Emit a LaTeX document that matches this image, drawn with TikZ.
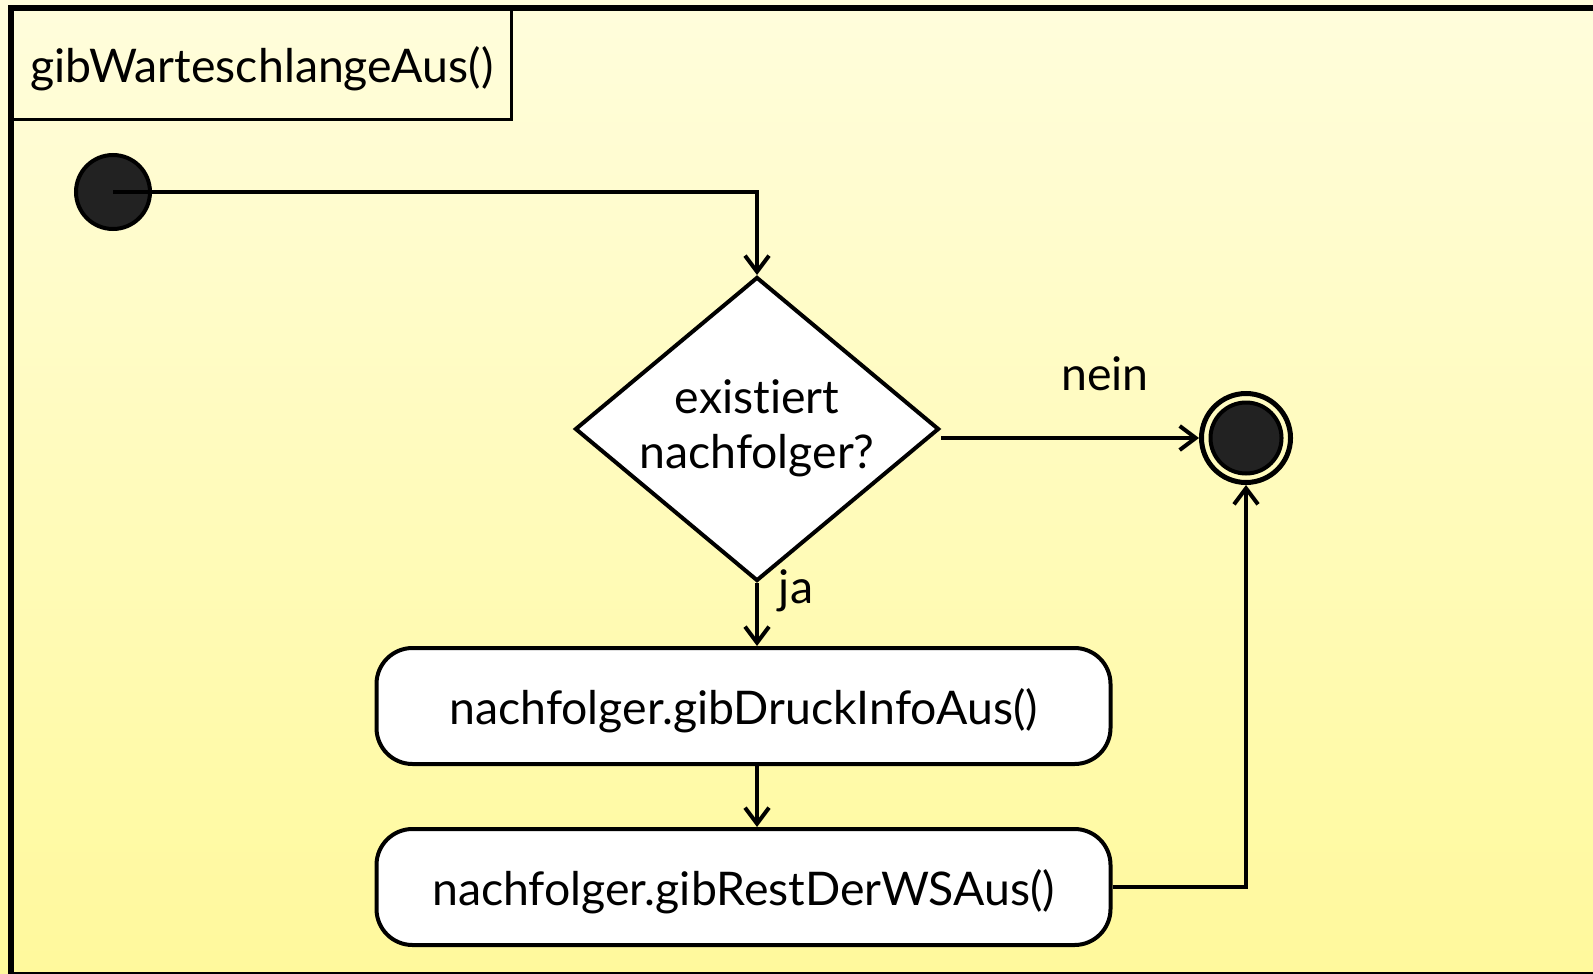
\documentclass[tikz,border=0pt]{standalone}
\usepackage{fontspec}
\setmainfont{Lato}[Ligatures=NoCommon]
\usetikzlibrary{arrows.meta,shapes.geometric}
\definecolor{bgtop}{HTML}{FFFDDC}
\definecolor{bgbot}{HTML}{FFF99C}
\definecolor{dotfill}{HTML}{222222}
\tikzset{
  flow/.style={line width=2pt, -{Straight Barb[length=8pt,width=12pt,line width=2pt]}},
  action/.style={draw, line width=2pt, fill=white, rounded corners=18pt,
    minimum width=367pt, minimum height=58pt, inner sep=0pt, text depth=0pt},
  decision/.style={diamond, draw, line width=2pt, fill=white, align=center,
    aspect=1.2, minimum width=182pt, minimum height=152pt, inner sep=0pt},
  txt/.style={font=\fontsize{23.2}{27.5}\selectfont},
}
\begin{document}
\begin{tikzpicture}[x=0.5pt,y=-0.5pt, txt]
\useasboundingbox (0,0) rectangle (1593,973);
\shade[top color=bgtop, bottom color=bgbot] (0,0) rectangle (1593,973);
% activity frame, open to the right
\draw[line width=3pt] (1700,8) -- (11,8) -- (11,975) -- (1700,975);
\node[draw, line width=1.5pt, anchor=north west, minimum width=249.5pt,
  minimum height=55pt, inner sep=0pt, text depth=0pt] (title) at (11,8) {gibWarteschlangeAus()};

% initial and final nodes
\node[circle, draw, line width=2pt, fill=dotfill, minimum size=37pt, inner sep=0pt] (start) at (113,192) {};
\node[circle, draw, line width=2.5pt, minimum size=44.5pt, inner sep=0pt] (endring) at (1246,438) {};
\node[circle, draw, line width=2pt, fill=dotfill, minimum size=35.5pt, inner sep=0pt] (enddot) at (endring) {};

% decision and actions (the strut lifts the two-line guard text a little)
\node[decision] (dec) at (757,429) {existiert\\nachfolger?\rule[-5pt]{0pt}{5pt}};
\node[action] (box1) at (743.5,706) {nachfolger.gibDruckInfoAus()};
\node[action] (box2) at (743.5,887) {nachfolger.gibRestDerWSAus()};

% control flow
\draw[flow] (start.center) -| (dec.north);
\draw[flow] (dec.east |- endring) -- (endring.west);
\draw[flow] (dec.south) -- (dec.south |- box1.north);
\draw[flow] (box1.south -| dec.south) -- (box2.north -| dec.south);
\draw[flow] (box2.east) -| (endring.south);

% guards
\node (nein) at (1105,374) {nein};
\node (ja) at (796,591) {ja};
\end{tikzpicture}
\end{document}
